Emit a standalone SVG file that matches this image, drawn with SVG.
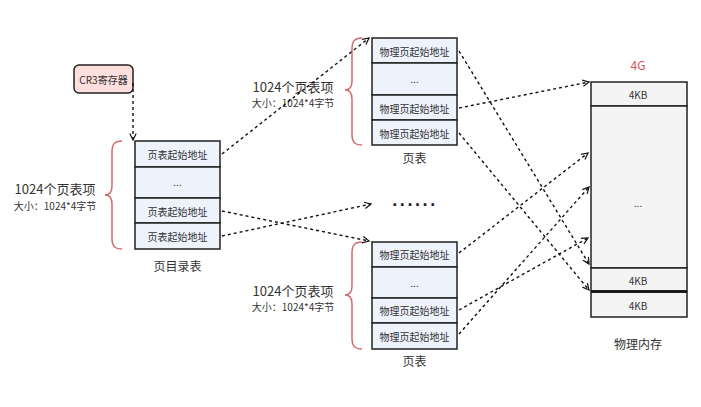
<svg xmlns="http://www.w3.org/2000/svg" width="701" height="407" viewBox="0 0 701 407">
<style>
text{font-family:"Noto Sans CJK SC","Noto Sans",sans-serif;text-anchor:middle;dominant-baseline:central;fill:#333}
.cell{fill:#edf2fb;stroke:#222;stroke-width:1.5}
.mem{fill:#f4f4f4;stroke:#222;stroke-width:1.5}
.t10{font-size:10px}
.t12{font-size:12px}
.t13{font-size:13px}
.brace{fill:none;stroke:#d46a6a;stroke-width:1.5}
.con{fill:none;stroke:#111;stroke-width:1.4;stroke-dasharray:3 3}
</style>
<defs>
<marker id="arr" viewBox="0 0 10 10" refX="9" refY="5" markerWidth="8" markerHeight="8" markerUnits="userSpaceOnUse" orient="auto">
<path d="M1,1 L9,5 L1,9" fill="none" stroke="#111" stroke-width="1.5"/>
</marker>
</defs>
<rect width="701" height="407" fill="#fff"/>

<g id="cr3">
<rect x="74" y="65" width="59" height="28" rx="5" fill="#ffdede" stroke="#222" stroke-width="1.5"/>
<text x="103.5" y="79" class="t10">CR3寄存器</text>
</g>

<g id="page-directory">
<rect x="135" y="141" width="85" height="26" class="cell"/>
<rect x="135" y="167" width="85" height="31" class="cell"/>
<rect x="135" y="198" width="85" height="25" class="cell"/>
<rect x="135" y="223" width="85" height="26" class="cell"/>
<text x="177.5" y="154" class="t10">页表起始地址</text>
<text x="177.5" y="181" class="t10">...</text>
<text x="177.5" y="211" class="t10">页表起始地址</text>
<text x="177.5" y="236" class="t10">页表起始地址</text>
<text x="177.5" y="265" class="t12">页目录表</text>
</g>

<g id="dir-brace">
<path class="brace" d="M122,141 C114,141 112,145 112,152 L112,186 C112,192 109,195 105,195 C109,195 112,198 112,204 L112,238 C112,245 114,249 122,249"/>
<text x="55" y="188" class="t13">1024个页表项</text>
<text x="55" y="205" class="t10">大小：1024*4字节</text>
</g>

<g id="page-table-1">
<rect x="372" y="38" width="85" height="25" class="cell"/>
<rect x="372" y="63" width="85" height="32" class="cell"/>
<rect x="372" y="95" width="85" height="25" class="cell"/>
<rect x="372" y="120" width="85" height="25" class="cell"/>
<text x="414.5" y="51" class="t10">物理页起始地址</text>
<text x="414.5" y="78" class="t10">...</text>
<text x="414.5" y="108" class="t10">物理页起始地址</text>
<text x="414.5" y="133" class="t10">物理页起始地址</text>
<text x="414.5" y="157" class="t12">页表</text>
</g>

<g id="pt1-brace">
<path class="brace" d="M362,38 C354,38 352,42 352,49 L352,81 C352,87 349,90 345,90 C349,90 352,93 352,99 L352,134 C352,141 354,145 362,145"/>
<text x="293" y="86" class="t13">1024个页表项</text>
<text x="293" y="102" class="t10">大小：1024*4字节</text>
</g>

<g id="ellipsis">
<text x="415" y="205" font-size="18" font-weight="bold" letter-spacing="1.6" style="font-family:'Liberation Sans',sans-serif;fill:#222">······</text>
</g>

<g id="page-table-2">
<rect x="372" y="242" width="85" height="25" class="cell"/>
<rect x="372" y="267" width="85" height="31" class="cell"/>
<rect x="372" y="298" width="85" height="25" class="cell"/>
<rect x="372" y="323" width="85" height="26" class="cell"/>
<text x="414.5" y="254.5" class="t10">物理页起始地址</text>
<text x="414.5" y="282" class="t10">...</text>
<text x="414.5" y="310.5" class="t10">物理页起始地址</text>
<text x="414.5" y="336" class="t10">物理页起始地址</text>
<text x="414.5" y="360" class="t12">页表</text>
</g>

<g id="pt2-brace">
<path class="brace" d="M362,242 C354,242 352,246 352,253 L352,286 C352,292 349,295 345,295 C349,295 352,298 352,304 L352,338 C352,345 354,349 362,349"/>
<text x="293" y="290" class="t13">1024个页表项</text>
<text x="293" y="306" class="t10">大小：1024*4字节</text>
</g>

<g id="physical-memory">
<text x="638" y="64" font-size="12" style="fill:#d9534f">4G</text>
<rect x="591" y="82" width="96" height="24" class="mem"/>
<rect x="591" y="106" width="96" height="162" class="mem"/>
<rect x="591" y="268" width="96" height="23" class="mem"/>
<rect x="591" y="292" width="96" height="25" class="mem"/>
<line x1="591" y1="291.5" x2="687" y2="291.5" stroke="#111" stroke-width="2.5"/>
<text x="638" y="94" class="t10">4KB</text>
<text x="638" y="202" class="t10">...</text>
<text x="638" y="280" class="t10">4KB</text>
<text x="638" y="305" class="t10">4KB</text>
<text x="638" y="343" class="t12">物理内存</text>
</g>

<g id="connectors">
<path class="con" d="M133,83 L133,140" marker-end="url(#arr)"/>
<path class="con" d="M222,154 L369,38" marker-end="url(#arr)"/>
<path class="con" d="M222,211 L369,241" marker-end="url(#arr)"/>
<path class="con" d="M222,236 L371,204" marker-end="url(#arr)"/>
<path class="con" d="M459,51 L589,264" marker-end="url(#arr)"/>
<path class="con" d="M459,108 L589,82" marker-end="url(#arr)"/>
<path class="con" d="M459,133 L589,290" marker-end="url(#arr)"/>
<path class="con" d="M459,253 L588,153" marker-end="url(#arr)"/>
<path class="con" d="M459,310 L588,238" marker-end="url(#arr)"/>
<path class="con" d="M459,334 L589,187" marker-end="url(#arr)"/>
</g>
</svg>
